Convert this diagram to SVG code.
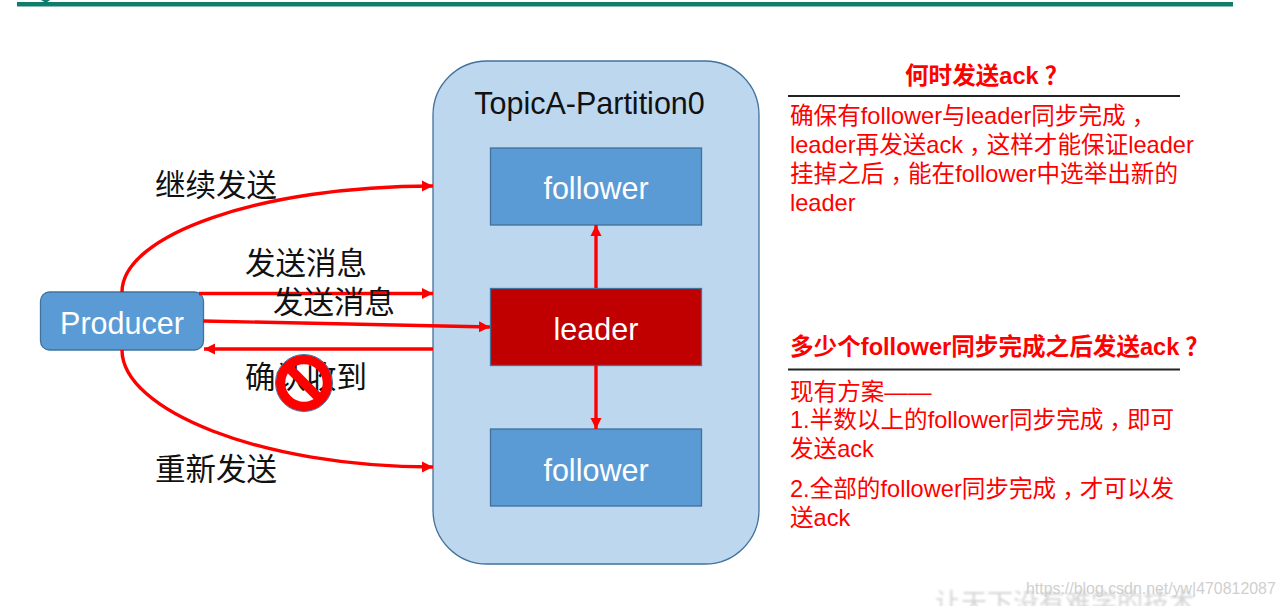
<svg xmlns="http://www.w3.org/2000/svg" width="1284" height="606" viewBox="0 0 1284 606">
<style>
text{font-family:"Liberation Sans","Noto Sans CJK SC",sans-serif}
.box{stroke:#41719c;stroke-width:1.3}
.blue{fill:#5b9bd5}
.w{fill:#fff;font-size:30.5px;text-anchor:middle}
.k{fill:#111;font-size:30.5px}
.r{fill:#f00;font-size:23.6px}
.h{fill:#f00;font-size:23.6px;font-weight:bold}
.c{fill:none;stroke:#f00;stroke-width:3.4}
.a{marker-end:url(#ah)}
.rule{stroke:#222;stroke-width:2}
</style>
<defs>
<marker id="ah" markerUnits="userSpaceOnUse" markerWidth="12" markerHeight="12" refX="11" refY="6" orient="auto"><path d="M0 0.5L11 6L0 11.5z" fill="#f00"/></marker>
<filter id="soft" x="-5%" y="-20%" width="110%" height="140%"><feGaussianBlur stdDeviation="0.9"/></filter>
</defs>
<rect width="1284" height="606" fill="#fff"/>
<g id="header"><rect x="17" y="2" width="1216" height="4.500" fill="#0f7c6c"/><path d="M41 0H50L46 3z" fill="#0f7c6c"/></g>
<g id="partition"><rect class="box" x="433" y="61" width="326" height="503" rx="54" fill="#bdd7ee"/><text x="589.500" y="114" fill="#111" font-size="30.500" text-anchor="middle">TopicA-Partition0</text></g>
<g id="follower-top"><rect class="box blue" x="490.500" y="148" width="211" height="77"/><text class="w" x="596" y="198.500">follower</text></g>
<g id="leader"><rect x="490.500" y="288.500" width="211" height="77" fill="#c00000" stroke="#41719c" stroke-width="1.300"/><text class="w" x="596" y="339.500">leader</text></g>
<g id="follower-bottom"><rect class="box blue" x="490.500" y="429" width="211" height="77"/><text class="w" x="596" y="480.500">follower</text></g>
<g id="producer"><rect class="box blue" x="40.500" y="292" width="163" height="58" rx="9"/><text class="w" x="122" y="333.500">Producer</text></g>
<g id="connectors">
<path class="c a" d="M122 292C122 235 260 186 433 186"/>
<path class="c a" d="M199 293.500H433"/>
<path class="c a" d="M203 321L490 327"/>
<path class="c a" d="M433 349H204"/>
<path class="c a" d="M122 350C122 410 260 467 433 467"/>
<path class="c a" d="M596 288V225"/>
<path class="c a" d="M596 365V429"/>
</g>
<g id="edge-labels">
<text class="k" x="155" y="196">继续发送</text>
<text class="k" x="245" y="274">发送消息</text>
<text class="k" x="273" y="313">发送消息</text>
<text class="k" x="245" y="388">确认收到</text>
<text class="k" x="155" y="480">重新发送</text>
</g>
<g id="prohibit"><circle cx="304" cy="383" r="23.500" fill="none" stroke="#f00" stroke-width="9.500"/><circle cx="304" cy="383" r="28.500" fill="none" stroke="#41719c" stroke-width="1"/><path d="M288 367L320 399" stroke="#f00" stroke-width="9.500"/></g>
<g id="when-note">
<text class="h" x="905" y="84">何时发送ack<tspan dx="6">？</tspan></text>
<path class="rule" d="M788 96H1180"/>
<text class="r" x="790" y="124">确保有follower与leader同步完成<tspan dx="6">，</tspan></text>
<text class="r" x="790" y="153">leader再发送ack<tspan dx="6">，</tspan><tspan dx="-6">这样才能保证leader</tspan></text>
<text class="r" x="790" y="182">挂掉之后<tspan dx="6">，</tspan><tspan dx="-6">能在follower中选举出新的</tspan></text>
<text class="r" x="790" y="211">leader</text>
</g>
<g id="how-many-note">
<text class="h" x="790" y="355">多少个follower同步完成之后发送ack<tspan dx="6">？</tspan></text>
<path class="rule" d="M788 369.500H1180"/>
<text class="r" x="790" y="400">现有方案——</text>
<text class="r" x="790" y="428">1.半数以上的follower同步完成<tspan dx="6">，</tspan><tspan dx="-6">即可</tspan></text>
<text class="r" x="790" y="457">发送ack</text>
<text class="r" x="790" y="497">2.全部的follower同步完成<tspan dx="6">，</tspan><tspan dx="-6">才可以发</tspan></text>
<text class="r" x="790" y="526">送ack</text>
</g>
<g id="watermark">
<text x="935" y="612" font-size="26" fill="#d4d4d4" filter="url(#soft)">让天下没有难学的技术</text>
<text x="1026" y="594" font-size="15.900" fill="#cfcfcf">https://blog.csdn.net/yw|470812087</text>
</g>
</svg>
